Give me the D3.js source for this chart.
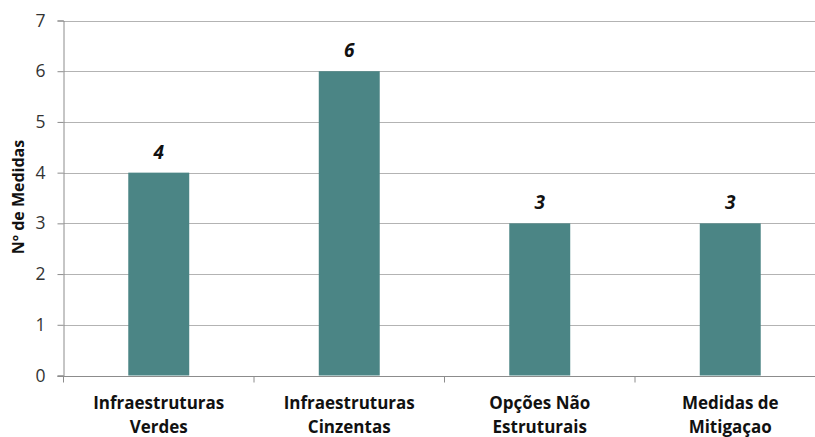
<!DOCTYPE html>
<html>
<head>
<meta charset="utf-8">
<script src="https://cdn.jsdelivr.net/npm/d3@7"></script>
<style>
  html, body { margin: 0; padding: 0; background: #fff; overflow: hidden; }
  svg { display: block; }
  text { font-family: "Open Sans", "Liberation Sans", sans-serif; }
</style>
</head>
<body>
<svg id="chart" width="815" height="437"></svg>
<script>
// Número de medidas por tipo
const categories = [["Infraestruturas", "Verdes"], ["Infraestruturas", "Cinzentas"], ["Opções Não", "Estruturais"], ["Medidas de", "Mitigaçao"]];
const values = [4, 6, 3, 3];
const yTicks = [0, 1, 2, 3, 4, 5, 6, 7];
const yTitle = "Nº de Medidas";

const svg = d3.select("#chart");
const margin = { left: 63.5, top: 20.5, bottom: 375.5 };
const band = 190.5;
const plotRight = margin.left + band * categories.length;

const x = d3.scaleBand()
  .domain(d3.range(categories.length))
  .range([margin.left, plotRight])
  .paddingInner(0.68)
  .paddingOuter(0.34);

const y = d3.scaleLinear().domain([0, 7]).range([margin.bottom, margin.top]);

// horizontal gridlines
svg.append("g")
  .selectAll("line")
  .data(yTicks)
  .join("line")
  .attr("x1", margin.left)
  .attr("x2", plotRight)
  .attr("y1", d => Math.round(y(d)) + 0.5)
  .attr("y2", d => Math.round(y(d)) + 0.5)
  .attr("stroke", "#b3b3b3")
  .attr("stroke-width", 1);

// bars
svg.append("g")
  .selectAll("rect")
  .data(values)
  .join("rect")
  .attr("x", (d, i) => x(i))
  .attr("width", x.bandwidth())
  .attr("y", d => y(d))
  .attr("height", d => y(0) - y(d))
  .attr("fill", "#4b8585");

// value labels
svg.append("g")
  .selectAll("text")
  .data(values)
  .join("text")
  .attr("x", (d, i) => x(i) + x.bandwidth() / 2)
  .attr("y", d => y(d) - 14)
  .attr("text-anchor", "middle")
  .attr("font-size", 19)
  .attr("font-weight", "bold")
  .attr("font-style", "italic")
  .attr("fill", "#111")
  .text(d => d);

// y axis
const yAxis = svg.append("g")
  .attr("transform", `translate(${margin.left},0)`)
  .call(d3.axisLeft(y).tickValues(yTicks).tickSize(6).tickPadding(12).tickFormat(d3.format("d")));
yAxis.select(".domain").attr("stroke", "#8c8c8c");
yAxis.selectAll(".tick line").attr("stroke", "#8c8c8c");
yAxis.selectAll(".tick text")
  .attr("font-size", 17.5)
  .attr("fill", "#333")
  .style("font-family", "'Open Sans', sans-serif");

// x axis baseline and category separators
const xAxis = svg.append("g").attr("transform", `translate(0,${Math.round(margin.bottom) + 0.5})`);
xAxis.append("line")
  .attr("x1", margin.left - 6).attr("x2", plotRight)
  .attr("stroke", "#8c8c8c");
xAxis.selectAll("line.sep")
  .data(d3.range(categories.length + 1))
  .join("line")
  .attr("class", "sep")
  .attr("x1", i => margin.left + band * i)
  .attr("x2", i => margin.left + band * i)
  .attr("y1", 0).attr("y2", 6)
  .attr("stroke", "#8c8c8c");

// category labels, two lines each
const catLabels = svg.append("g")
  .selectAll("text")
  .data(categories)
  .join("text")
  .attr("x", (d, i) => x(i) + x.bandwidth() / 2)
  .attr("y", 409)
  .attr("text-anchor", "middle")
  .attr("font-size", 17)
  .attr("font-weight", "bold")
  .attr("fill", "#111");
catLabels.selectAll("tspan")
  .data(d => d)
  .join("tspan")
  .attr("x", function () { return d3.select(this.parentNode).attr("x"); })
  .attr("dy", (d, j) => j === 0 ? 0 : 24)
  .text(d => d);

// y axis title
svg.append("text")
  .attr("transform", "translate(24,197) rotate(-90)")
  .attr("text-anchor", "middle")
  .attr("font-size", 16)
  .attr("font-weight", "bold")
  .attr("fill", "#111")
  .text(yTitle);
</script>
</body>
</html>
